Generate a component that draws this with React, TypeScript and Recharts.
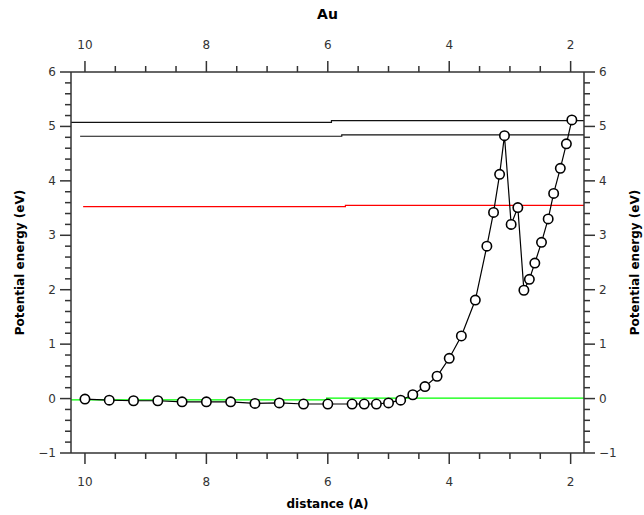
import React from 'react';
import { LineChart, Line, XAxis, YAxis } from 'recharts';

// ---- data ----
const distance = [10, 9.6, 9.2, 8.8, 8.4, 8.0, 7.6, 7.2, 6.8, 6.4, 6.0, 5.6, 5.4, 5.2, 5.0, 4.8, 4.6, 4.4, 4.2, 4.0, 3.8, 3.57, 3.38, 3.27, 3.17, 3.09, 2.98, 2.87, 2.77, 2.68, 2.59, 2.48, 2.37, 2.28, 2.17, 2.07, 1.98];
const energy = [-0.01, -0.03, -0.04, -0.04, -0.06, -0.06, -0.06, -0.09, -0.08, -0.1, -0.1, -0.1, -0.1, -0.1, -0.08, -0.03, 0.07, 0.22, 0.41, 0.74, 1.15, 1.81, 2.8, 3.42, 4.12, 4.83, 3.2, 3.51, 1.99, 2.19, 2.49, 2.87, 3.3, 3.77, 4.23, 4.68, 5.12];

const upperBlackX = [10.23, 5.94, 5.94, 1.78];
const upperBlackY = [5.075, 5.075, 5.105, 5.105];
const lowerBlackX = [10.08, 5.77, 5.77, 1.78];
const lowerBlackY = [4.82, 4.82, 4.845, 4.845];
const redX = [10.03, 5.71, 5.71, 1.78];
const redY = [3.525, 3.525, 3.55, 3.55];
const greenX = [10.23, 6.02, 6.02, 1.78];
const greenY = [-0.025, -0.025, 0.01, 0.01];

const xTicks = [2, 2.5, 3, 3.5, 4, 4.5, 5, 5.5, 6, 6.5, 7, 7.5, 8, 8.5, 9, 9.5, 10];
const yTicks = [-1, -0.8, -0.6, -0.4, -0.2, 0, 0.2, 0.4, 0.6, 0.8, 1, 1.2, 1.4, 1.6, 1.8, 2, 2.2, 2.4, 2.6, 2.8, 3, 3.2, 3.4, 3.6, 3.8, 4, 4.2, 4.4, 4.6, 4.8, 5, 5.2, 5.4, 5.6, 5.8, 6];
const xMajor = [2, 4, 6, 8, 10];
const yMajor = [-1, 0, 1, 2, 3, 4, 5, 6];

const zip = (xs: number[], ys: number[]) => xs.map((x, i) => ({ x, y: ys[i] }));
const mainData = zip(distance, energy);
const upperBlack = zip(upperBlackX, upperBlackY);
const lowerBlack = zip(lowerBlackX, lowerBlackY);
const redLine = zip(redX, redY);
const greenLine = zip(greenX, greenY);

const FONT = 'DejaVu Sans';
const AXIS = '#333';
const TICKTXT = '#333';

const isMajor = (v: number, list: number[]) => list.some((m) => Math.abs(m - v) < 1e-6);
const fmt = (v: number) => (v < 0 ? '\u2212' + Math.abs(v) : String(v));

const BottomTick = (p: any) => {
  const v = p.payload.value;
  const major = isMajor(v, xMajor);
  return (
    <g>
      <line x1={p.x} y1={p.y} x2={p.x} y2={p.y + (major ? 11 : 6)} stroke={AXIS} strokeWidth={1.5} />
      {major && (
        <text x={p.x} y={p.y + 29} textAnchor="middle" dominantBaseline="central" fontFamily={FONT} fontSize={12} fill={TICKTXT}>
          {fmt(v)}
        </text>
      )}
    </g>
  );
};
const TopTick = (p: any) => {
  const v = p.payload.value;
  const major = isMajor(v, xMajor);
  return (
    <g>
      <line x1={p.x} y1={p.y} x2={p.x} y2={p.y - (major ? 11 : 6)} stroke={AXIS} strokeWidth={1.5} />
      {major && (
        <text x={p.x} y={p.y - 27} textAnchor="middle" dominantBaseline="central" fontFamily={FONT} fontSize={12} fill={TICKTXT}>
          {fmt(v)}
        </text>
      )}
    </g>
  );
};
const LeftTick = (p: any) => {
  const v = p.payload.value;
  const major = isMajor(v, yMajor);
  return (
    <g>
      <line x1={p.x} y1={p.y} x2={p.x - (major ? 11 : 6)} y2={p.y} stroke={AXIS} strokeWidth={1.5} />
      {major && (
        <text x={p.x - 15} y={p.y} textAnchor="end" dominantBaseline="central" fontFamily={FONT} fontSize={12} fill={TICKTXT}>
          {fmt(v)}
        </text>
      )}
    </g>
  );
};
const RightTick = (p: any) => {
  const v = p.payload.value;
  const major = isMajor(v, yMajor);
  return (
    <g>
      <line x1={p.x} y1={p.y} x2={p.x + (major ? 11 : 6)} y2={p.y} stroke={AXIS} strokeWidth={1.5} />
      {major && (
        <text x={p.x + 15} y={p.y} textAnchor="start" dominantBaseline="central" fontFamily={FONT} fontSize={12} fill={TICKTXT}>
          {fmt(v)}
        </text>
      )}
    </g>
  );
};

const labelStyle = { fontFamily: FONT, fontSize: 12, fontWeight: 'bold' as const, fill: '#000' };

export default function App() {
  return (
    <div style={{ position: 'absolute', left: 0, top: 0, width: 644, height: 515, background: '#fff' }}>
      <LineChart width={644} height={515} margin={{ top: 0, right: 0, bottom: 0, left: 0 }}>
        <XAxis
          xAxisId="bottom"
          type="number"
          dataKey="x"
          orientation="bottom"
          domain={[1.78, 10.23]}
          reversed
          allowDataOverflow
          ticks={xTicks}
          interval={0}
          height={62}
          tickSize={0}
          tickMargin={0}
          tickLine={false}
          axisLine={{ stroke: AXIS, strokeWidth: 1.5 }}
          tick={<BottomTick />}
          label={{
            content: (props: any) => {
              const vb = props.viewBox;
              return (
                <text x={vb.x + vb.width / 2} y={vb.y + 51} textAnchor="middle" dominantBaseline="central" {...labelStyle}>
                  distance (A)
                </text>
              );
            },
          }}
        />
        <XAxis
          xAxisId="top"
          type="number"
          dataKey="x"
          orientation="top"
          domain={[1.78, 10.23]}
          reversed
          allowDataOverflow
          ticks={xTicks}
          interval={0}
          height={72}
          tickSize={0}
          tickMargin={0}
          tickLine={false}
          axisLine={{ stroke: AXIS, strokeWidth: 1.5 }}
          tick={<TopTick />}
          label={{
            content: (props: any) => {
              const vb = props.viewBox;
              return (
                <text x={vb.x + vb.width / 2} y={vb.y + 14} textAnchor="middle" dominantBaseline="central" {...labelStyle} fontSize={14}>
                  Au
                </text>
              );
            },
          }}
        />
        <YAxis
          yAxisId="left"
          type="number"
          orientation="left"
          domain={[-1, 6]}
          allowDataOverflow
          ticks={yTicks}
          interval={0}
          width={71}
          tickSize={0}
          tickMargin={0}
          tickLine={false}
          axisLine={{ stroke: AXIS, strokeWidth: 1.5 }}
          tick={<LeftTick />}
          label={{
            content: (props: any) => {
              const vb = props.viewBox;
              const cx = vb.x + 20;
              const cy = vb.y + vb.height / 2;
              return (
                <text x={cx} y={cy} transform={`rotate(-90 ${cx} ${cy})`} textAnchor="middle" dominantBaseline="central" {...labelStyle}>
                  Potential energy (eV)
                </text>
              );
            },
          }}
        />
        <YAxis
          yAxisId="right"
          type="number"
          orientation="right"
          domain={[-1, 6]}
          allowDataOverflow
          ticks={yTicks}
          interval={0}
          width={60}
          tickSize={0}
          tickMargin={0}
          tickLine={false}
          axisLine={{ stroke: AXIS, strokeWidth: 1.5 }}
          tick={<RightTick />}
          label={{
            content: (props: any) => {
              const vb = props.viewBox;
              const cx = vb.x + 51;
              const cy = vb.y + vb.height / 2;
              return (
                <text x={cx} y={cy} transform={`rotate(-90 ${cx} ${cy})`} textAnchor="middle" dominantBaseline="central" {...labelStyle}>
                  Potential energy (eV)
                </text>
              );
            },
          }}
        />
        <Line xAxisId="bottom" yAxisId="left" data={upperBlack} dataKey="y" stroke="#111" strokeWidth={1.2} dot={false} isAnimationActive={false} />
        <Line xAxisId="bottom" yAxisId="left" data={lowerBlack} dataKey="y" stroke="#111" strokeWidth={1.2} dot={false} isAnimationActive={false} />
        <Line xAxisId="bottom" yAxisId="left" data={redLine} dataKey="y" stroke="#ff0000" strokeWidth={1.2} dot={false} isAnimationActive={false} />
        <Line xAxisId="bottom" yAxisId="left" data={greenLine} dataKey="y" stroke="#00ff00" strokeWidth={1.2} dot={false} isAnimationActive={false} />
        <Line xAxisId="top" yAxisId="right" data={mainData} dataKey="y" stroke="#000" strokeWidth={1.2}
          dot={{ r: 4.7, fill: '#fff', stroke: '#000', strokeWidth: 1.6 }} isAnimationActive={false} />
      </LineChart>
    </div>
  );
}
